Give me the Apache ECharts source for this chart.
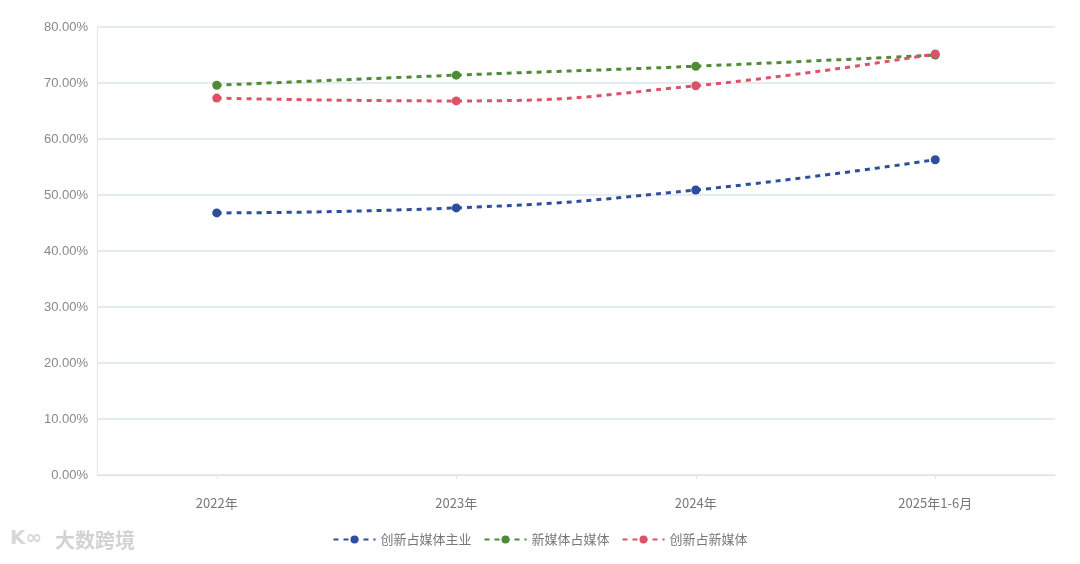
<!DOCTYPE html>
<html><head><meta charset="utf-8">
<script src="https://cdn.jsdelivr.net/npm/echarts@6/dist/echarts.min.js"></script>
<style>html,body{margin:0;padding:0;background:#fff}#c{width:1080px;height:564px}</style>
</head><body><div id="c"></div>
<script>
const categories = ['2022年','2023年','2024年','2025年1-6月'];
const seriesNames = ['创新占媒体主业','新媒体占媒体','创新占新媒体'];
const innovationShareMain = [46.8, 47.7, 50.9, 56.3];
const newMediaShare = [69.6, 71.4, 73.0, 75.0];
const innovationShareNew = [67.3, 66.8, 69.5, 75.2];
const colors = ['#2d4e9c','#4f8a34','#dc5268'];

const chart = echarts.init(document.getElementById('c'));
const mk = (name, data, color) => ({
  name, type:'line', data, smooth:true, symbol:'circle', symbolSize:9,
  itemStyle:{color}, lineStyle:{color, width:3, type:[5,5]}
});
chart.setOption({
  animation:false,
  color:colors,
  grid:{left:97, right:25, top:27, bottom:89},
  legend:{bottom:13, left:'center', itemWidth:42, itemHeight:10, itemGap:12,
    textStyle:{color:'#777', fontSize:13, fontFamily:'Noto Sans CJK SC'},
    data:seriesNames},
  xAxis:{type:'category', data:categories, boundaryGap:true,
    axisLine:{lineStyle:{color:'#dfe3ea'}},
    axisTick:{show:true, alignWithLabel:true, length:4, lineStyle:{color:'#dfe3ea'}},
    axisLabel:{color:'#777', fontSize:13, margin:22, fontFamily:'Noto Sans CJK SC'}},
  yAxis:{type:'value', min:0, max:80, interval:10,
    axisLine:{show:true, lineStyle:{color:'#e3e6ea'}},
    axisLabel:{color:'#888', fontSize:13, margin:9, formatter:v=>v.toFixed(2)+'%'},
    splitLine:{lineStyle:{color:'#dde4ee', width:1.5}}},
  graphic:[{type:'text', left:55, top:530, style:{text:'大数跨境', fill:'#d2d2d2', font:'bold 20px "Noto Sans CJK SC"'}},
           {type:'text', left:10, top:529, style:{text:'K∞', fill:'#d8d8d8', font:'bold 20px "DejaVu Sans"'}}],
  series:[mk(seriesNames[0], innovationShareMain, colors[0]),
          mk(seriesNames[1], newMediaShare, colors[1]),
          mk(seriesNames[2], innovationShareNew, colors[2])]
});
</script></body></html>
